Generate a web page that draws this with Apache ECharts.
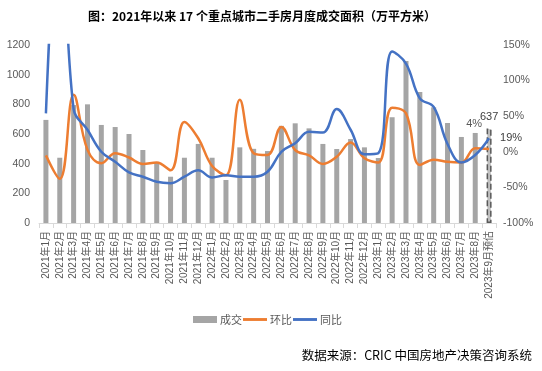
<!DOCTYPE html>
<html>
<head>
<meta charset="utf-8">
<script src="https://cdn.jsdelivr.net/npm/echarts@6/dist/echarts.min.js"></script>
<style>html,body{margin:0;padding:0;background:#fff;}#c{width:542px;height:371px;}</style>
</head>
<body>
<div id="c"></div>
<script>
const categories = [
  '2021年1月','2021年2月','2021年3月','2021年4月','2021年5月','2021年6月','2021年7月','2021年8月','2021年9月','2021年10月','2021年11月','2021年12月',
  '2022年1月','2022年2月','2022年3月','2022年4月','2022年5月','2022年6月','2022年7月','2022年8月','2022年9月','2022年10月','2022年11月','2022年12月',
  '2023年1月','2023年2月','2023年3月','2023年4月','2023年5月','2023年6月','2023年7月','2023年8月','2023年9月预估'
];
const volume = [
  695, 440, 795, 800, 661, 647, 600, 492, 410, 312, 440, 533,
  440, 290, 510, 500, 485, 655, 672, 638, 533, 499, 566, 510,
  438, 713, 1092, 883, 780, 674, 580, 607, 637
];
const mom = [
  -5, -38, 80, 3, -16, -2, -8, -17, -15, -26, 42, 19,
  -20, -33, 73, -2, -4.5, 35, 2.5, -5, -17, -7, 13, -9,
  -15, 62, 54, -18.5, -11, -14, -15, 5, 4
];
const yoy = [
  54, 350, 60, 31, 0, -14, -29, -35, -42, -44, -35, -26,
  -36, -33, -35, -35, -28, 0, 12, 28, 27, 60, 31, -3.5,
  -2, 141, 124, 75, 63, 11, -15, -4.5, 19
];
const leftTicks = {min: 0, max: 1200, interval: 200};
const rightTicks = {min: -100, max: 150, interval: 50};

const FONT = 'Liberation Sans, "Noto Sans CJK SC", sans-serif';
const CJK = '"Noto Sans CJK SC", sans-serif';
const last = categories.length - 1;

const barData = volume.map((v, i) => {
  if (i === last) {
    return {
      value: v,
      itemStyle: {color: '#BFBFBF', borderColor: '#595959', borderWidth: 1.5, borderType: 'dashed'},
      label: {show: true, position: 'top', distance: 6, color: '#404040', fontSize: 11, fontFamily: FONT}
    };
  }
  return v;
});
const momData = mom.map((v, i) => i === last ? {
  value: v,
  label: {show: true, position: 'top', offset: [-15, -14], formatter: '{c}%', color: '#595959', fontSize: 11, fontFamily: FONT}
} : v);
const yoyData = yoy.map((v, i) => i === last ? {
  value: v,
  label: {show: true, position: 'right', distance: 11, formatter: '{c}%', color: '#404040', fontSize: 11, fontFamily: FONT}
} : v);

const lineIcon = 'path://M0,0h25v3H0z';

const chart = echarts.init(document.getElementById('c'), null, {renderer: 'canvas'});
chart.setOption({
  animation: false,
  textStyle: {fontFamily: FONT},
  title: {
    text: '图：2021年以来 17 个重点城市二手房月度成交面积（万平方米）',
    left: 83, top: 5,
    textStyle: {fontSize: 12, fontWeight: 'bold', color: '#000', fontFamily: CJK}
  },
  graphic: [{
    type: 'text', right: 10, top: 349,
    style: {text: '数据来源：CRIC 中国房地产决策咨询系统', fontSize: 12.5, fill: '#000', fontFamily: CJK}
  }],
  legend: {
    left: 188, top: 309,
    itemWidth: 24, itemHeight: 7, itemGap: 1, symbolKeepAspect: true,
    textStyle: {fontSize: 11, color: '#595959', fontFamily: CJK, padding: [0, 0, 0, -2]},
    data: [{name: '成交', icon: 'rect'}, {name: '环比', icon: lineIcon}, {name: '同比', icon: lineIcon}]
  },
  grid: {left: 39, right: 46, top: 45, bottom: 148},
  xAxis: {
    type: 'category', data: categories, boundaryGap: true,
    axisLine: {lineStyle: {color: '#D9D9D9'}},
    axisTick: {show: true, length: 5, lineStyle: {color: '#D9D9D9'}},
    axisLabel: {interval: 0, rotate: 90, fontSize: 10, color: '#595959', margin: 8, fontFamily: FONT}
  },
  yAxis: [{
    type: 'value', min: leftTicks.min, max: leftTicks.max, interval: leftTicks.interval,
    axisLine: {show: false}, axisTick: {show: false}, splitLine: {show: false},
    axisLabel: {fontSize: 10.5, color: '#595959', margin: 9, fontFamily: FONT, formatter: v => String(v)}
  }, {
    type: 'value', min: rightTicks.min, max: rightTicks.max, interval: rightTicks.interval,
    axisLine: {show: false}, axisTick: {show: false}, splitLine: {show: false},
    axisLabel: {fontSize: 10.5, color: '#595959', margin: 7, formatter: '{value}%', fontFamily: FONT}
  }],
  series: [{
    name: '成交', type: 'bar', data: barData, barWidth: 5,
    itemStyle: {color: '#A5A5A5'}, yAxisIndex: 0
  }, {
    name: '环比', type: 'line', data: momData, yAxisIndex: 1, smooth: 0.4,
    symbol: 'circle', symbolSize: 0.01, showSymbol: true, clip: true,
    lineStyle: {color: '#ED7D31', width: 2.5}, itemStyle: {color: '#ED7D31'}
  }, {
    name: '同比', type: 'line', data: yoyData, yAxisIndex: 1, smooth: 0.4,
    symbol: 'circle', symbolSize: 0.01, showSymbol: true, clip: true,
    lineStyle: {color: '#4472C4', width: 2.5}, itemStyle: {color: '#4472C4'}
  }]
});
</script>
</body>
</html>
